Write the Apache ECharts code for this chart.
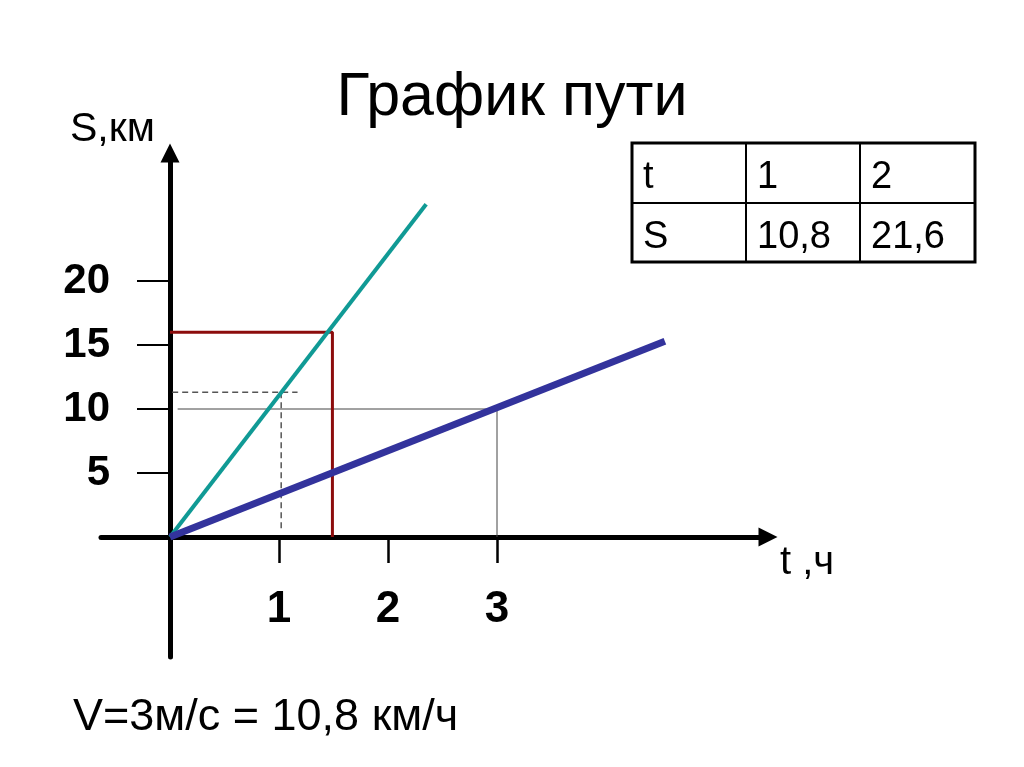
<!DOCTYPE html>
<html>
<head>
<meta charset="utf-8">
<script src="https://cdn.jsdelivr.net/npm/echarts@6/dist/echarts.min.js"></script>
<style>
  body{margin:0;background:#fff;}
  #chart{width:1024px;height:767px;}
</style>
</head>
<body>
<div id="chart"></div>
<script>
  // axis ticks
  var tTicks = [1, 2, 3]
  var sTicks = [5, 10, 15, 20]
  // lines (t in h, S in km)
  var fastLine = [[0, 0], [2.35, 26.0]]
  var slowLine = [[0, 0], [4.54, 15.3]]
  var redGuide = [[0, 16.0], [1.49, 16.0], [1.49, 0]]
  var dashH = [[0.02, 11.3], [1.17, 11.3]]
  var dashV = [[1.02, 11.3], [1.02, 0.6]]
  var thinGuide = [[0.07, 10], [3, 10], [3, 0]]
  // table in the corner
  var tableT = ['t', '1', '2']
  var tableS = ['S', '10,8', '21,6']

  var font = 'Liberation Sans, Arial, sans-serif'

  // grid box and where the zero lines fall inside it
  var G = {left: 101, right: 256, top: 153, bottom: 110}
  var xMin = -0.633, xMax = 5.486, yMin = -9.375, yMax = 30
  var gw = 1024 - G.left - G.right, gh = 767 - G.top - G.bottom
  var zeroX = gw * (0 - xMin) / (xMax - xMin)      // from grid left
  var zeroY = gh * (0 - yMin) / (yMax - yMin)      // from grid bottom

  function guide(data, color, width, type){
    return {
      type: 'line', data: data, showSymbol: false, silent: true,
      lineStyle: {color: color, width: width, type: type || 'solid'},
      z: 2
    }
  }

  // table graphics
  var tbl = {x: 632, y: 143, w: 343, h: 119, cols: [632, 746, 860], rows: [178, 238]}
  var graphics = [
    {type: 'rect', shape: {x: tbl.x, y: tbl.y, width: tbl.w, height: tbl.h},
     style: {fill: 'none', stroke: '#000', lineWidth: 3}},
    {type: 'line', shape: {x1: 746, y1: tbl.y, x2: 746, y2: tbl.y + tbl.h}, style: {stroke: '#000', lineWidth: 2}},
    {type: 'line', shape: {x1: 860, y1: tbl.y, x2: 860, y2: tbl.y + tbl.h}, style: {stroke: '#000', lineWidth: 2}},
    {type: 'line', shape: {x1: tbl.x, y1: 203, x2: tbl.x + tbl.w, y2: 203}, style: {stroke: '#000', lineWidth: 2}}
  ]
  ;[tableT, tableS].forEach(function(row, r){
    row.forEach(function(txt, c){
      graphics.push({type: 'text', x: tbl.cols[c] + 11, y: tbl.rows[r],
        style: {text: txt, font: '38px ' + font, fill: '#000', textVerticalAlign: 'middle'}})
    })
  })
  graphics.push(
    {type: 'text', x: 512, y: 98, style: {text: 'График пути', font: '61px ' + font, fill: '#000', textAlign: 'center', textVerticalAlign: 'middle'}},
    {type: 'text', x: 70, y: 130, style: {text: 'S,км', font: '41px ' + font, fill: '#000', textVerticalAlign: 'middle'}},
    {type: 'text', x: 780, y: 563, style: {text: 't ,ч', font: '40px ' + font, fill: '#000', textVerticalAlign: 'middle'}},
    {type: 'text', x: 73, y: 718, style: {text: 'V=3м/с = 10,8 км/ч', font: '45px ' + font, fill: '#000', textVerticalAlign: 'middle'}}
  )

  var chart = echarts.init(document.getElementById('chart'))
  chart.setOption({
    animation: false,
    backgroundColor: '#fff',
    grid: {left: G.left, right: G.right, top: G.top, bottom: G.bottom, outerBoundsMode: 'none', containLabel: false},
    xAxis: {
      type: 'value', min: xMin, max: xMax,
      position: 'bottom', offset: -zeroY,
      axisLine: {onZero: false, symbol: ['none', 'triangle'], symbolSize: [19, 19],
        lineStyle: {color: '#000', width: 5}},
      axisTick: {show: true, length: 26, customValues: tTicks, lineStyle: {color: '#000', width: 2.5}},
      axisLabel: {customValues: tTicks, margin: 51, color: '#000', fontSize: 44, fontWeight: 'bold', fontFamily: font},
      splitLine: {show: false}
    },
    yAxis: {
      type: 'value', min: yMin, max: yMax,
      position: 'left', offset: -zeroX,
      axisLine: {onZero: false, symbol: ['none', 'triangle'], symbolSize: [19, 19],
        lineStyle: {color: '#000', width: 5}},
      axisTick: {show: true, length: 33, customValues: sTicks, lineStyle: {color: '#000', width: 2}},
      axisLabel: {customValues: sTicks, margin: 60, color: '#000', fontSize: 42, fontWeight: 'bold', fontFamily: font},
      splitLine: {show: false}
    },
    series: [
      guide(thinGuide, '#444', 1),
      guide(dashH, '#555', 1.5, [6, 4]),
      guide(dashV, '#555', 1.5, [6, 4]),
      guide(redGuide, '#8c0c0c', 3),
      {type: 'line', data: fastLine, showSymbol: false, lineStyle: {color: '#109a95', width: 4}, z: 3},
      {type: 'line', data: slowLine, showSymbol: false, lineStyle: {color: '#33339c', width: 7}, z: 4}
    ],
    graphic: graphics
  })
</script>
</body>
</html>
